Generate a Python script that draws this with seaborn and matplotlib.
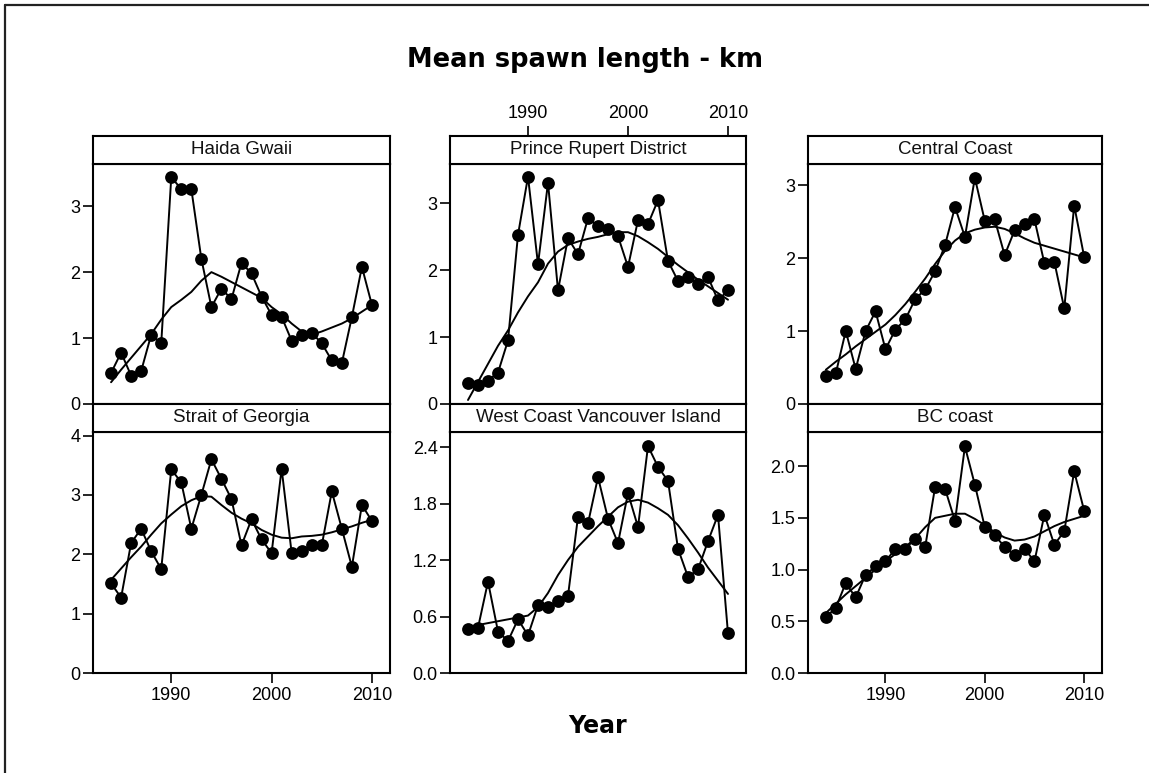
import matplotlib
matplotlib.use("Agg")
import matplotlib.pyplot as plt
import seaborn as sns
import pandas as pd
import numpy as np
from matplotlib.lines import Line2D

years = list(range(1984, 2011))

regions = ["Haida Gwaii", "Prince Rupert District", "Central Coast",
           "Strait of Georgia", "West Coast Vancouver Island", "BC coast"]

haida = [0.47, 0.78, 0.43, 0.50, 1.05, 0.92, 3.44, 3.26, 3.26, 2.20, 1.47, 1.75, 1.59, 2.14,
         1.98, 1.63, 1.35, 1.32, 0.96, 1.04, 1.08, 0.92, 0.66, 0.62, 1.32, 2.08, 1.50]
haida_smooth = [0.33, 0.52, 0.70, 0.88, 1.06, 1.28, 1.47, 1.58, 1.70, 1.87, 2.00, 1.93, 1.85, 1.77,
                1.69, 1.61, 1.47, 1.36, 1.22, 1.10, 1.05, 1.10, 1.16, 1.22, 1.30, 1.40, 1.50]

prince = [0.31, 0.29, 0.35, 0.47, 0.95, 2.53, 3.40, 2.09, 3.31, 1.70, 2.48, 2.24, 2.78, 2.66,
          2.62, 2.51, 2.05, 2.75, 2.69, 3.05, 2.14, 1.84, 1.90, 1.79, 1.90, 1.55, 1.70]
prince_smooth = [0.06, 0.33, 0.60, 0.87, 1.10, 1.37, 1.61, 1.82, 2.10, 2.28, 2.38, 2.43, 2.47, 2.50,
                 2.54, 2.57, 2.57, 2.51, 2.42, 2.32, 2.20, 2.08, 1.97, 1.86, 1.76, 1.66, 1.56]

central = [0.39, 0.42, 1.00, 0.48, 1.00, 1.27, 0.75, 1.02, 1.16, 1.44, 1.57, 1.82, 2.18, 2.70,
           2.29, 3.10, 2.51, 2.53, 2.04, 2.38, 2.47, 2.53, 1.93, 1.95, 1.31, 2.72, 2.02]
central_smooth = [0.47, 0.58, 0.68, 0.79, 0.89, 0.99, 1.09, 1.22, 1.37, 1.54, 1.72, 1.92, 2.10, 2.24,
                  2.34, 2.39, 2.42, 2.43, 2.40, 2.34, 2.27, 2.21, 2.17, 2.13, 2.09, 2.05, 2.01]

georgia = [1.51, 1.27, 2.19, 2.43, 2.05, 1.75, 3.43, 3.21, 2.43, 3.00, 3.60, 3.27, 2.93, 2.15,
           2.59, 2.25, 2.02, 3.44, 2.02, 2.05, 2.15, 2.15, 3.06, 2.43, 1.79, 2.83, 2.56]
georgia_smooth = [1.57, 1.76, 1.95, 2.13, 2.33, 2.52, 2.67, 2.81, 2.91, 2.98, 2.97, 2.83, 2.70, 2.60,
                  2.52, 2.41, 2.33, 2.28, 2.27, 2.30, 2.31, 2.33, 2.37, 2.42, 2.47, 2.53, 2.58]

wcvi = [0.47, 0.48, 0.97, 0.44, 0.34, 0.57, 0.40, 0.72, 0.70, 0.76, 0.82, 1.66, 1.59, 2.08,
        1.64, 1.38, 1.91, 1.55, 2.41, 2.19, 2.04, 1.32, 1.02, 1.10, 1.40, 1.68, 0.42]
wcvi_smooth = [0.49, 0.51, 0.53, 0.55, 0.57, 0.59, 0.61, 0.70, 0.85, 1.04, 1.20, 1.34, 1.45, 1.56,
               1.66, 1.76, 1.82, 1.84, 1.81, 1.75, 1.68, 1.57, 1.43, 1.28, 1.12, 0.98, 0.84]

bc = [0.54, 0.63, 0.87, 0.73, 0.95, 1.03, 1.08, 1.20, 1.20, 1.30, 1.22, 1.80, 1.78, 1.47,
      2.19, 1.82, 1.41, 1.33, 1.22, 1.14, 1.20, 1.08, 1.53, 1.24, 1.37, 1.95, 1.57]
bc_smooth = [0.58, 0.67, 0.76, 0.84, 0.92, 1.00, 1.08, 1.15, 1.22, 1.30, 1.41, 1.50, 1.52, 1.54,
             1.54, 1.49, 1.43, 1.36, 1.31, 1.28, 1.29, 1.32, 1.37, 1.42, 1.46, 1.49, 1.52]

values = [haida, prince, central, georgia, wcvi, bc]
smooths = [haida_smooth, prince_smooth, central_smooth, georgia_smooth, wcvi_smooth, bc_smooth]

yticks = [[0, 1, 2, 3], [0, 1, 2, 3], [0, 1, 2, 3], [0, 1, 2, 3, 4],
          [0.0, 0.6, 1.2, 1.8, 2.4], [0.0, 0.5, 1.0, 1.5, 2.0]]
yticklabels = [["0", "1", "2", "3"], ["0", "1", "2", "3"], ["0", "1", "2", "3"],
               ["0", "1", "2", "3", "4"], ["0.0", "0.6", "1.2", "1.8", "2.4"],
               ["0.0", "0.5", "1.0", "1.5", "2.0"]]
ytops = [3.64, 3.59, 3.29, 4.06, 2.56, 2.33]
xticks = [1990, 2000, 2010]
xticklabels = ["1990", "2000", "2010"]

title = "Mean spawn length - km"
xlabel = "Year"

rows = []
for reg, v, s in zip(regions, values, smooths):
    for yr, a, b in zip(years, v, s):
        rows.append({"region": reg, "year": yr, "value": a, "smooth": b})
df = pd.DataFrame(rows)

sns.set_theme(style="white")
plt.rcParams["font.family"] = ["Liberation Sans", "DejaVu Sans"]
plt.rcParams["text.color"] = "black"

W, H = 1149, 773
fig = plt.figure(figsize=(W / 100, H / 100), dpi=100)

col_x = [(93, 297), (450, 296), (808, 294)]
row_y = [(164, 404), (432, 673)]
strip_h = 28

def fr(x0, y0, w, h):
    return [x0 / W, (H - y0 - h) / H, w / W, h / H]

for i, reg in enumerate(regions):
    r, c = divmod(i, 3)
    x0, w = col_x[c]
    yt, yb = row_y[r]
    ax = fig.add_axes(fr(x0, yt, w, yb - yt))
    sub = df[df["region"] == reg]
    sns.lineplot(data=sub, x="year", y="value", ax=ax, color="black", lw=1.4,
                 marker="o", markersize=9.2, markeredgecolor="black", markeredgewidth=0)
    sns.lineplot(data=sub, x="year", y="smooth", ax=ax, color="black", lw=1.4)
    ax.set_xlim(1982.2, 2011.8)
    ax.set_ylim(0, ytops[i])
    ax.set_yticks(yticks[i])
    ax.set_yticklabels(yticklabels[i])
    ax.set_xlabel("")
    ax.set_ylabel("")
    for sp in ax.spines.values():
        sp.set_color("black")
        sp.set_linewidth(1.5)
    ax.tick_params(axis="y", which="both", left=True, length=7, width=1.2,
                   pad=2, labelsize=13, colors="black", direction="out")
    ax.set_xticks(xticks)
    if r == 1 and c in (0, 2):
        ax.set_xticklabels(xticklabels)
        ax.tick_params(axis="x", bottom=True, top=False, length=7, width=1.2,
                       pad=3, labelsize=13, colors="black", direction="out")
    else:
        ax.tick_params(axis="x", bottom=False, top=False, labelbottom=False)

    sax = fig.add_axes(fr(x0, yt - strip_h, w, strip_h))
    sax.set_xticks([])
    sax.set_yticks([])
    for sp in sax.spines.values():
        sp.set_color("black")
        sp.set_linewidth(1.5)
    sax.text(0.5, 0.5, reg, ha="center", va="center", fontsize=13.5,
             transform=sax.transAxes, color="#111111")
    if r == 0 and c == 1:
        sax.set_xlim(1982.2, 2011.8)
        sax.set_xticks(xticks)
        sax.set_xticklabels(xticklabels)
        sax.tick_params(axis="x", top=True, bottom=False, labeltop=True, labelbottom=False,
                        length=7, width=1.2, pad=3, labelsize=13, colors="black",
                        direction="out")

fig.text(585 / W, 1 - 60 / H, title, ha="center", va="center", fontsize=18.5,
         fontweight="bold", family="DejaVu Sans", color="black")
fig.text(597 / W, 1 - 726 / H, xlabel, ha="center", va="center", fontsize=17,
         fontweight="bold", family="DejaVu Sans", color="black")

fig.add_artist(Line2D([4.5 / W, 1], [1 - 5 / H, 1 - 5 / H], transform=fig.transFigure,
                      color="#222222", lw=1.6))
fig.add_artist(Line2D([4.5 / W, 4.5 / W], [0, 1 - 5 / H], transform=fig.transFigure,
                      color="#222222", lw=1.6))

fig.savefig("out.png", dpi=100, facecolor="white")
